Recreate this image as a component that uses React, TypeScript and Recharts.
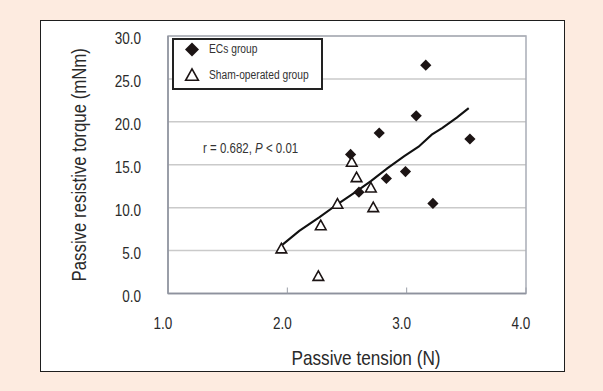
import React from 'react';
import {
  ScatterChart,
  Scatter,
  XAxis,
  YAxis,
  CartesianGrid,
  ReferenceArea,
  ReferenceDot,
  Legend,
  Label,
} from 'recharts';

// ---- data ----
const ecsX = [3.16, 3.08, 2.77, 3.53, 2.53, 2.99, 2.83, 2.6, 3.22];
const ecsY = [26.6, 20.7, 18.7, 18.0, 16.2, 14.2, 13.4, 11.8, 10.5];
const shamX = [2.54, 2.58, 2.7, 2.42, 2.72, 2.28, 1.95, 2.26];
const shamY = [15.3, 13.5, 12.3, 10.4, 10.0, 7.9, 5.2, 2.0];
const fitX = [1.96, 2.1, 2.27, 2.44, 2.57, 2.7, 2.84, 2.98, 3.1, 3.21, 3.3, 3.42, 3.52];
const fitY = [5.7, 7.3, 8.9, 10.6, 11.8, 13.1, 14.6, 16.0, 17.1, 18.5, 19.3, 20.5, 21.6];
const xTicks = [1, 2, 3, 4];
const yTicks = [0, 5, 10, 15, 20, 25, 30];
const seriesNames = ['ECs group', 'Sham-operated group'];
const xTitle = 'Passive tension (N)';
const yTitle = 'Passive resistive torque (mNm)';
const annotation = { x: 1.294, y: 16.96, pre: 'r = 0.682, ', italic: 'P', post: ' < 0.01' };

const ecsData = ecsX.map((x, i) => ({ x, y: ecsY[i] }));
const shamData = shamX.map((x, i) => ({ x, y: shamY[i] }));
const fitData = fitX.map((x, i) => ({ x, y: fitY[i] }));

const FONT = "'Liberation Sans', Arial, sans-serif";
const NARROW = 0.82;
const INK = '#1c1414';

// text drawn with a horizontal squeeze to mimic a narrow sans face
const NText = (props: any) => {
  const { x, y, rotate = 0, children, ...rest } = props;
  return (
    <text
      x={0}
      y={0}
      transform={`translate(${x} ${y}) rotate(${rotate}) scale(${NARROW} 1)`}
      fontFamily={FONT}
      {...rest}
    >
      {children}
    </text>
  );
};

const Diamond = (props: any) => {
  const { cx, cy, h = 5.6 } = props;
  return <polygon points={`${cx},${cy - h} ${cx + h},${cy} ${cx},${cy + h} ${cx - h},${cy}`} fill={INK} />;
};

const Triangle = (props: any) => {
  const { cx, cy, k = 1 } = props;
  return (
    <polygon
      points={`${cx},${cy - 5.5 * k} ${cx + 5.3 * k},${cy + 4 * k} ${cx - 5.3 * k},${cy + 4 * k}`}
      fill="#fff"
      stroke={INK}
      strokeWidth={1.6}
    />
  );
};

const XTick = (props: any) => {
  const { x, y, payload } = props;
  return (
    <g>
      <line x1={x} x2={x} y1={y} y2={y - 6} stroke="#9a9ea8" strokeWidth={1} />
      <NText x={x - 5} y={y + 35} textAnchor="middle" fontSize={16.5} fill="#2a2a2a">
        {Number(payload.value).toFixed(1)}
      </NText>
    </g>
  );
};

const YTick = (props: any) => {
  const { x, y, payload } = props;
  return (
    <NText x={x - 27} y={y + 8} textAnchor="end" fontSize={16.5} fill="#2a2a2a">
      {Number(payload.value).toFixed(1)}
    </NText>
  );
};

const LegendBox = () => (
  <div
    style={{
      width: 151,
      height: 52,
      boxSizing: 'border-box',
      border: '2px solid #222',
      background: '#fff',
      position: 'relative',
    }}
  >
    <svg width={151} height={52} style={{ position: 'absolute', left: -2, top: -2 }}>
      <Diamond cx={20} cy={11.5} h={7} />
      <Triangle cx={20} cy={37.5} k={1.2} />
      <NText x={37} y={15} fontSize={12.5} fill="#333">
        {seriesNames[0]}
      </NText>
      <NText x={37} y={40.5} fontSize={12.5} fill="#333">
        {seriesNames[1]}
      </NText>
    </svg>
  </div>
);

export default function App() {
  return (
    <div style={{ position: 'fixed', left: 0, top: 0, width: 603, height: 391, background: '#fdebe0' }}>
      <div
        style={{
          position: 'absolute',
          left: 40,
          top: 20,
          width: 525,
          height: 352,
          boxSizing: 'border-box',
          border: '1.5px solid #1e1e1e',
          background: '#fff',
        }}
      />
      <div style={{ position: 'absolute', left: 0, top: 0 }}>
        <ScatterChart width={603} height={391} margin={{ top: 36, right: 77, bottom: 67.5, left: 108 }}>
          <CartesianGrid vertical={false} stroke="#cacaca" strokeWidth={1.5} />
          <XAxis
            type="number"
            dataKey="x"
            domain={[1, 4]}
            ticks={xTicks}
            height={30}
            tickSize={0}
            tickMargin={0}
            tick={<XTick />}
            axisLine={{ stroke: '#8e929e', strokeWidth: 1.5 }}
            tickLine={false}
            allowDataOverflow
          >
            <Label
              content={(p: any) => {
                const vb = p.viewBox;
                return (
                  <NText
                    x={vb.x + vb.width / 2 + 19}
                    y={vb.y + 71}
                    textAnchor="middle"
                    fontSize={21}
                    fill="#2a2a2a"
                  >
                    {xTitle}
                  </NText>
                );
              }}
            />
          </XAxis>
          <YAxis
            type="number"
            dataKey="y"
            domain={[0, 30]}
            ticks={yTicks}
            width={60}
            tickSize={0}
            tickMargin={0}
            tick={<YTick />}
            axisLine={{ stroke: '#8e929e', strokeWidth: 1.5 }}
            tickLine={false}
            allowDataOverflow
          >
            <Label
              content={(p: any) => {
                const vb = p.viewBox;
                const cx = vb.x + vb.width - 82;
                const cy = vb.y + vb.height / 2;
                return (
                  <NText
                    x={cx}
                    y={cy}
                    rotate={-90}
                    textAnchor="middle"
                    fontSize={20.5}
                    fill="#2a2a2a"
                  >
                    {yTitle}
                  </NText>
                );
              }}
            />
          </YAxis>
          <ReferenceArea x1={1} x2={4} y1={0} y2={30} fill="none" stroke="#a9adb6" strokeWidth={1.5} />
          <Legend
            layout="horizontal"
            verticalAlign="middle"
            align="center"
            wrapperStyle={{ left: 172, top: 38, width: 151, height: 52 }}
            content={() => <LegendBox />}
          />
          <Scatter
            name="fit"
            data={fitData}
            line={{ stroke: '#111', strokeWidth: 2.1 }}
            lineType="joint"
            shape={() => <g />}
            isAnimationActive={false}
            legendType="none"
          />
          <Scatter name={seriesNames[1]} data={shamData} shape={<Triangle />} isAnimationActive={false} />
          <Scatter name={seriesNames[0]} data={ecsData} shape={<Diamond />} isAnimationActive={false} />
          <ReferenceDot
            x={annotation.x}
            y={annotation.y}
            r={0}
            fill="none"
            stroke="none"
            label={(p: any) => {
              const vb = p.viewBox;
              return (
                <NText x={vb.x} y={vb.y + 5} fontSize={14} fill="#333">
                  {annotation.pre}
                  <tspan fontStyle="italic">{annotation.italic}</tspan>
                  {annotation.post}
                </NText>
              );
            }}
          />
        </ScatterChart>
      </div>
    </div>
  );
}
